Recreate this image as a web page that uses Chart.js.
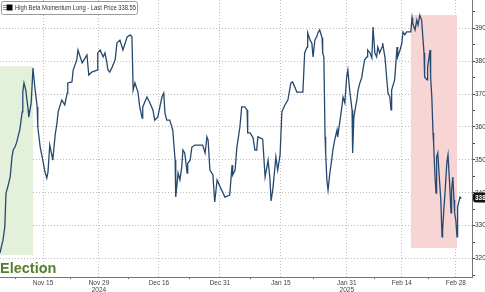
<!DOCTYPE html>
<html>
<head>
<meta charset="utf-8">
<script src="https://cdn.jsdelivr.net/npm/chart.js@4.4.1/dist/chart.umd.min.js"></script>
<style>
  html, body { margin: 0; padding: 0; background: #fff; overflow: hidden; }
</style>
</head>
<body>
<canvas id="chart" width="485" height="292"></canvas>
<script>
// trading-session position (since election close) and price
const days = [
  0.0, 0.3, 0.5, 0.8, 1.0, 1.3, 1.7, 2.0, 2.2, 2.5, 2.8, 3.0, 3.3, 3.7, 3.8, 4.0, 4.3, 4.5, 4.7, 4.8,
  5.2, 5.5, 5.8, 6.2, 6.3, 6.7, 7.2, 7.5, 7.8, 8.0, 8.3, 8.7, 8.8, 9.2, 9.5, 9.7, 10.3, 10.8, 11.2, 11.3,
  12.0, 12.2, 12.8, 13.0, 13.7, 14.2, 14.5, 14.8, 15.3, 16.2, 16.3, 16.7, 17.2, 17.5, 17.8, 18.0, 18.3, 18.7, 19.2, 19.5,
  20.0, 20.5, 21.2, 21.7, 22.0, 22.2, 22.5, 23.0, 23.3, 23.7, 23.8, 24.5, 25.0, 25.5, 25.8, 26.3, 27.0, 27.3, 27.5, 27.8,
  28.3, 28.8, 29.2, 29.3, 29.7, 30.0, 30.3, 30.5, 30.8, 31.2, 31.3, 31.7, 32.0, 32.5, 33.8, 34.2, 34.5, 34.7, 35.0, 35.5,
  35.8, 36.2, 36.7, 37.2, 37.5, 38.3, 38.7, 38.8, 39.2, 39.5, 40.0, 40.3, 40.8, 41.2, 41.3, 41.7, 42.2, 42.5, 42.8, 43.0,
  43.8, 44.2, 44.5, 44.7, 45.0, 45.2, 45.5, 46.0, 46.3, 46.7, 47.0, 47.5, 48.0, 48.5, 48.8, 49.5, 50.5, 50.8, 51.2, 51.3,
  51.7, 52.0, 52.2, 52.5, 52.8, 53.0, 53.3, 53.7, 53.8, 54.0, 54.2, 54.3, 54.5, 54.7, 55.0, 55.3, 55.5, 55.8, 56.2, 56.3,
  56.7, 57.0, 57.2, 57.5, 57.8, 58.0, 58.3, 58.7, 58.8, 59.0, 59.2, 59.5, 59.7, 60.0, 60.3, 60.5, 60.8, 61.2, 61.3, 61.7,
  62.0, 62.2, 62.5, 62.8, 63.0, 63.3, 63.7, 63.8, 64.2, 64.5, 64.7, 65.0, 65.2, 65.3, 65.8, 66.2, 66.3, 66.7, 67.0, 67.2,
  67.5, 67.8, 68.5, 68.7, 68.8, 69.2, 69.5, 69.7, 70.0, 70.3, 70.5, 70.7, 70.8, 71.2, 71.3, 71.7, 71.8, 72.0, 72.2, 72.3,
  72.5, 72.7, 72.8, 73.0, 73.2, 73.5, 73.7, 73.8, 74.0, 74.2, 74.5, 74.7, 75.0, 75.2, 75.3, 75.5, 75.7, 75.8, 76.0, 76.2,
  76.3, 76.7, 76.8
];
const prices = [
  321.7, 324.1, 325.6, 329.6, 339.9, 341.8, 344.8, 350.9, 353.0, 353.9, 355.4, 357.0, 359.1, 364.6, 370.6, 373.4, 371.2, 368.2, 365.2, 363.0,
  367.3, 377.9, 372.2, 366.1, 360.0, 353.9, 349.3, 346.3, 344.5, 346.3, 354.5, 350.9, 349.9, 357.6, 361.2, 364.6, 368.2, 366.7, 370.3, 373.4,
  373.7, 377.3, 380.4, 383.4, 379.5, 381.0, 381.9, 375.8, 376.7, 377.3, 382.5, 383.4, 381.3, 382.5, 379.8, 377.3, 376.7, 378.2, 380.4, 385.5,
  386.4, 383.4, 387.4, 388.0, 387.4, 371.2, 373.4, 370.6, 366.1, 362.7, 366.1, 369.1, 367.3, 365.2, 362.1, 363.0, 369.1, 370.3, 364.3, 362.1,
  362.1, 359.1, 349.9, 338.7, 346.0, 343.9, 347.8, 353.0, 352.1, 346.0, 349.0, 349.9, 353.9, 354.5, 354.5, 352.1, 357.0, 356.0, 346.9, 345.4,
  337.2, 343.9, 341.8, 339.9, 338.7, 339.3, 348.4, 345.4, 346.9, 353.9, 360.0, 366.1, 366.1, 365.2, 358.2, 358.2, 356.7, 353.0, 353.0, 357.0,
  356.3, 344.8, 347.8, 349.9, 344.5, 337.5, 341.2, 350.9, 346.9, 351.5, 364.6, 366.7, 368.2, 373.4, 373.7, 370.6, 370.6, 382.5, 384.3, 388.6,
  386.4, 385.5, 381.3, 386.4, 387.4, 388.6, 389.5, 387.1, 382.5, 381.3, 357.0, 352.1, 343.9, 340.8, 346.0, 349.9, 353.0, 356.0, 359.1, 357.0,
  362.1, 366.1, 369.1, 367.3, 375.2, 377.3, 371.2, 365.2, 352.1, 363.0, 365.2, 368.2, 371.2, 373.4, 374.9, 377.3, 380.4, 381.3, 383.4, 382.5,
  381.0, 390.4, 382.5, 381.3, 384.3, 382.5, 384.3, 385.5, 381.0, 374.3, 370.3, 369.1, 365.2, 371.2, 374.3, 384.3, 381.3, 383.4, 385.5, 388.9,
  388.0, 388.9, 388.9, 393.1, 391.6, 389.5, 392.5, 391.0, 394.0, 392.5, 387.4, 382.5, 375.2, 374.3, 378.2, 383.4, 375.2, 369.1, 358.2, 355.1,
  346.0, 339.9, 350.9, 352.1, 346.0, 337.8, 326.6, 328.7, 334.8, 339.9, 349.0, 351.5, 341.8, 333.9, 340.8, 344.8, 337.8, 333.9, 331.7, 326.6,
  335.7, 338.7, 338.55
];

const tickDays = [7.17, 16.5, 26.5, 36.67, 46.83, 57.83, 67, 76];
const tickLabels = [['Nov 15'], ['Nov 29', '2024'], ['Dec 16'], ['Dec 31'], ['Jan 15'], ['Jan 31', '2025'], ['Feb 14'], ['Feb 28']];
const priceTicks = [320, 330, 340, 350, 360, 370, 380, 390];
const seriesName = 'High Beta Momentum Long';
const lastPrice = 338.55;
const electionZone = { from: 0, to: 5.5, high: 378.5, low: 321.1 };
const selloffZone = { from: 68.5, to: 76.2, high: 394, low: 323.2 };

const minorX = tickDays.map((d, i) => i === 0 ? d - (tickDays[1] - d) / 2 : (d + tickDays[i - 1]) / 2);
const minorY = priceTicks.map(p => p - 5).concat([395]);

const zonesPlugin = {
  id: 'zones',
  beforeDatasetsDraw(chart) {
    const { ctx, scales: { x, y } } = chart;
    const box = (z, color) => {
      const x1 = x.getPixelForValue(z.from), x2 = x.getPixelForValue(z.to);
      const y1 = y.getPixelForValue(z.high), y2 = y.getPixelForValue(z.low);
      ctx.fillStyle = color;
      ctx.fillRect(x1, y1, x2 - x1, y2 - y1);
    };
    ctx.save();
    box(electionZone, '#e3f0da');
    box(selloffZone, '#f8d5d5');
    ctx.restore();
  },
  afterDraw(chart) {
    const { ctx, scales: { x, y } } = chart;
    ctx.save();
    // legend box
    ctx.fillStyle = '#fff';
    ctx.strokeStyle = '#9a9a9a';
    ctx.lineWidth = 1;
    ctx.beginPath();
    ctx.roundRect(1.5, 1.5, 136, 13, 2);
    ctx.fill();
    ctx.stroke();
    ctx.fillStyle = '#888';
    for (let i = 0; i < 3; i++) ctx.fillRect(3, 5 + i * 2, 3, 1);
    ctx.fillStyle = '#000';
    ctx.fillRect(6.5, 4.5, 6, 6);
    ctx.fillStyle = '#333';
    ctx.font = '7px "Liberation Sans", Arial, sans-serif';
    ctx.textBaseline = 'middle';
    ctx.fillText(seriesName + ' - Last Price ' + lastPrice.toFixed(2), 15, 8.5, 121);

    // election label
    ctx.fillStyle = '#557f2a';
    ctx.font = 'bold 14.5px "Liberation Sans", Arial, sans-serif';
    ctx.textBaseline = 'alphabetic';
    ctx.fillText('Election', 0, 273);

    // last price tag
    const py = y.getPixelForValue(lastPrice);
    ctx.fillStyle = '#111';
    ctx.beginPath();
    ctx.roundRect(473, py - 5, 20, 10, 3);
    ctx.fill();
    ctx.fillStyle = '#fff';
    ctx.font = 'bold 6.5px "Liberation Sans", Arial, sans-serif';
    ctx.textBaseline = 'middle';
    ctx.fillText(lastPrice.toFixed(2), 475, py + 0.5);
    ctx.restore();
  }
};

const isMajorX = v => tickDays.includes(v);
const isMajorY = v => priceTicks.includes(v);

new Chart(document.getElementById('chart'), {
  type: 'line',
  data: {
    datasets: [{
      label: seriesName,
      data: days.map((d, i) => ({ x: d, y: prices[i] })),
      borderColor: '#26496f',
      borderWidth: 1.3,
      pointRadius: 0,
      tension: 0
    }]
  },
  options: {
    responsive: false,
    animation: false,
    devicePixelRatio: 1,
    layout: { padding: 0 },
    plugins: { legend: { display: false }, tooltip: { enabled: false } },
    scales: {
      x: {
        type: 'linear',
        min: 0,
        max: 78.7,
        afterBuildTicks: s => { s.ticks = tickDays.concat(minorX).sort((a, b) => a - b).map(v => ({ value: v })); },
        afterFit: s => { s.height = 15; s.paddingLeft = 0; s.paddingRight = 0; },
        ticks: {
          autoSkip: false,
          maxRotation: 0,
          padding: 0,
          color: '#444',
          font: { size: 6.5, family: '"Liberation Sans", Arial, sans-serif', lineHeight: 1.15 },
          callback: v => { const i = tickDays.indexOf(v); return i >= 0 ? tickLabels[i] : ''; }
        },
        grid: {
          color: c => (c.tick && isMajorX(c.tick.value)) ? '#bdbdbd' : 'rgba(0,0,0,0)',
          tickColor: c => (c.tick && isMajorX(c.tick.value)) ? 'rgba(0,0,0,0)' : '#666',
          tickLength: 2
        },
        border: { display: true, color: '#777', dash: [1, 2] }
      },
      y: {
        position: 'right',
        min: 314.4,
        max: 398.6,
        afterBuildTicks: s => { s.ticks = priceTicks.concat(minorY).sort((a, b) => a - b).map(v => ({ value: v })); },
        afterFit: s => { s.width = 13; s.paddingTop = 0; s.paddingBottom = 0; },
        ticks: {
          padding: 0,
          color: '#333',
          font: { size: 6.5, family: '"Liberation Sans", Arial, sans-serif' },
          callback: v => isMajorY(v) ? String(v) : ''
        },
        grid: {
          color: c => (c.tick && isMajorY(c.tick.value)) ? '#bdbdbd' : 'rgba(0,0,0,0)',
          tickColor: '#444',
          tickLength: 3
        },
        border: { display: true, color: '#777', dash: [1, 2] }
      }
    }
  },
  plugins: [zonesPlugin]
});
</script>
</body>
</html>
